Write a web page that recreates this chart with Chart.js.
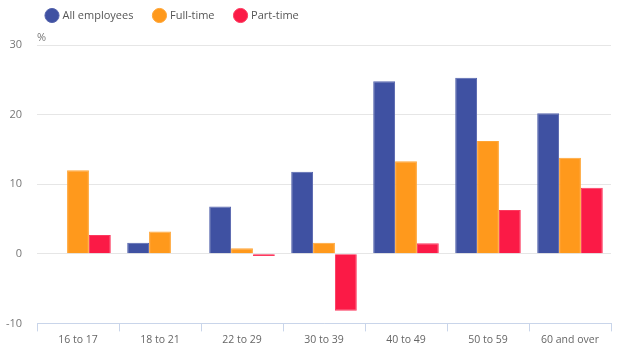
<!DOCTYPE html>
<html>
<head>
<meta charset="utf-8">
<script src="https://cdn.jsdelivr.net/npm/chart.js@4/dist/chart.umd.min.js"></script>
<style>
  html, body { margin: 0; padding: 0; background: #fff; }
  #wrap { width: 620px; height: 352px; }
</style>
</head>
<body>
<div id="wrap"><canvas id="chart"></canvas></div>
<script>
  // 年齢層
  var categories = ['16 to 17', '18 to 21', '22 to 29', '30 to 39', '40 to 49', '50 to 59', '60 and over'];
  var allEmployees = [null, 1.6, 6.8, 11.8, 24.8, 25.3, 20.2];
  var fullTime = [12.0, 3.2, 0.8, 1.6, 13.3, 16.2, 13.8];
  var partTime = [2.7, null, -0.3, -8.2, 1.5, 6.3, 9.5];
  var yTicks = [-10, 0, 10, 20, 30];

  var FONT = '"Open Sans", sans-serif';

  // 凡例の位置を微調整
  var legendShift = {
    id: 'legendShift',
    afterLayout: function(chart) {
      var lg = chart.legend;
      lg.left += 22;
      lg.right += 22;
      lg.top -= 14;
      lg.bottom -= 14;
    }
  };

  // 軸の単位 "%"
  var unitLabel = {
    id: 'unitLabel',
    afterDraw: function(chart) {
      var c = chart.ctx;
      var a = chart.chartArea;
      c.save();
      c.font = '11px ' + FONT;
      c.fillStyle = '#777';
      c.textBaseline = 'bottom';
      c.textAlign = 'left';
      c.fillText('%', a.left, a.top - 2);
      c.restore();
    }
  };

  function ds(label, values, color, edge) {
    return {
      label: label,
      data: values,
      backgroundColor: color,
      borderColor: edge,
      borderWidth: 1,
      categoryPercentage: 0.8,
      barPercentage: 1.0
    };
  }

  new Chart(document.getElementById('chart'), {
    type: 'bar',
    data: {
      labels: categories,
      datasets: [
        ds('All employees', allEmployees, '#3f51a2', '#5766ae'),
        ds('Full-time', fullTime, '#ff991c', '#ffa535'),
        ds('Part-time', partTime, '#fb1a46', '#fc3a5f')
      ]
    },
    options: {
      responsive: true,
      maintainAspectRatio: false,
      animation: false,
      layout: { padding: { left: 4, right: 9, top: 3, bottom: 4 } },
      plugins: {
        legend: {
          position: 'top',
          align: 'start',
          labels: {
            usePointStyle: true,
            pointStyle: 'circle',
            boxWidth: 10,
            boxHeight: 10,
            padding: 21,
            color: '#555',
            font: { family: FONT, size: 11 }
          }
        },
        tooltip: { enabled: false }
      },
      scales: {
        x: {
          grid: {
            display: true,
            drawOnChartArea: false,
            offset: true,
            tickLength: 8,
            color: '#c9d5ea'
          },
          border: { display: true, color: '#c9d5ea', width: 1 },
          ticks: { color: '#666', font: { family: FONT, size: 10.5 }, padding: 2, maxRotation: 0 }
        },
        y: {
          min: -10,
          max: 30,
          afterBuildTicks: function(axis) {
            axis.ticks = yTicks.map(function(v) { return { value: v }; });
          },
          afterFit: function(axis) { axis.width = 33; },
          grid: { color: '#e6e6e6', drawTicks: false },
          border: { display: false },
          ticks: { color: '#777', font: { family: FONT, size: 11 }, padding: 15 }
        }
      }
    },
    plugins: [legendShift, unitLabel]
  });
</script>
</body>
</html>
